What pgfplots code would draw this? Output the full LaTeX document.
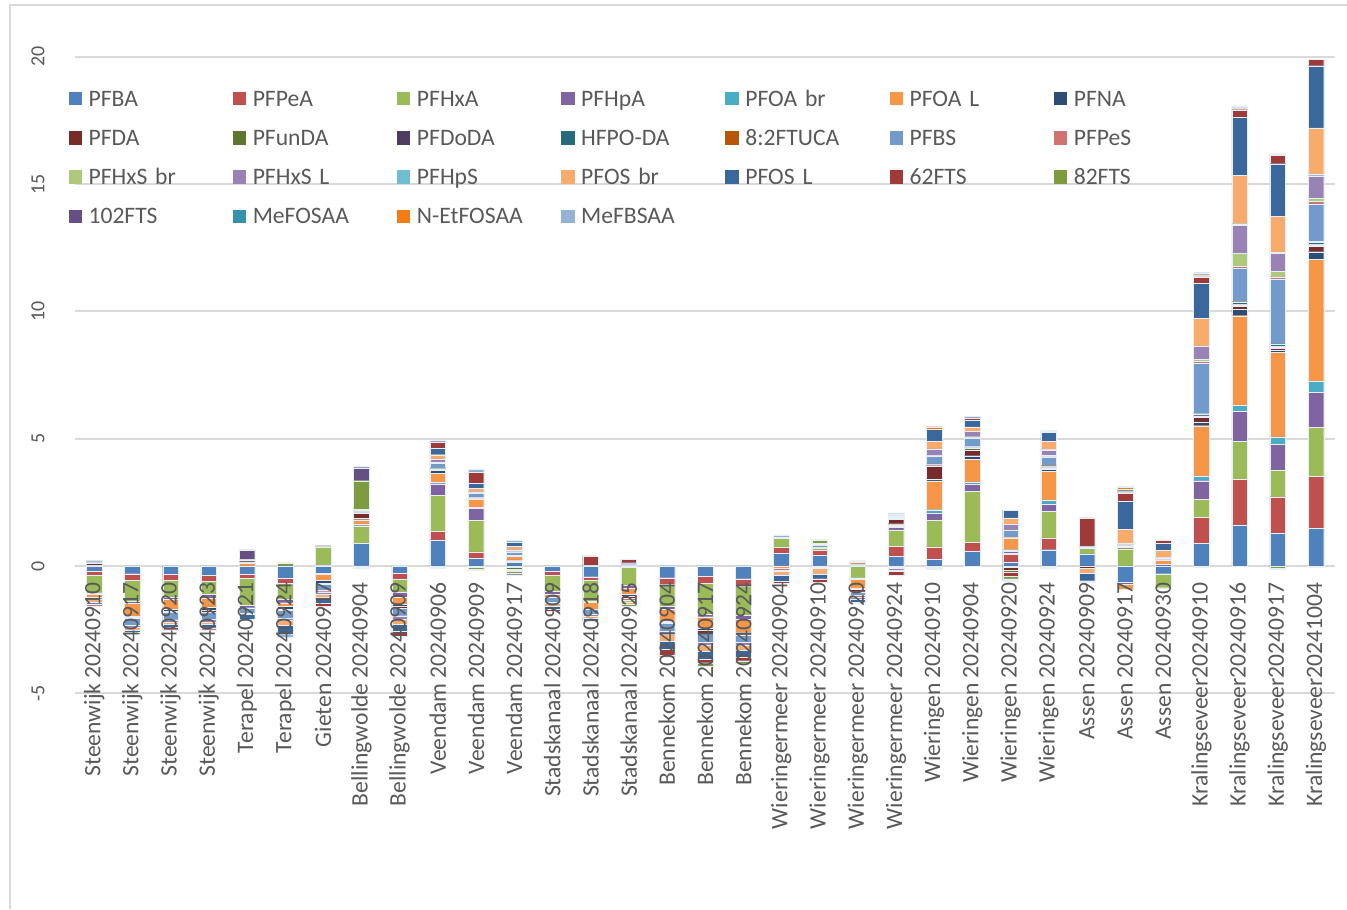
\documentclass[border=0pt]{standalone}
\usepackage{pgfplots}
\usepackage{pgfplotstable}
\pgfplotsset{compat=1.18}
\usepackage{fontspec}
\setmainfont{Carlito}
\definecolor{txtgray}{HTML}{595959}
\definecolor{gridgray}{HTML}{D9D9D9}
\definecolor{c1}{HTML}{4F81BD}
\definecolor{c2}{HTML}{C0504D}
\definecolor{c3}{HTML}{9BBB59}
\definecolor{c4}{HTML}{8064A2}
\definecolor{c5}{HTML}{4BACC6}
\definecolor{c6}{HTML}{F79646}
\definecolor{c7}{HTML}{2C4D75}
\definecolor{c8}{HTML}{772C2A}
\definecolor{c9}{HTML}{5F7530}
\definecolor{c10}{HTML}{4D3B62}
\definecolor{c11}{HTML}{276A7C}
\definecolor{c12}{HTML}{B65708}
\definecolor{c13}{HTML}{729ACA}
\definecolor{c14}{HTML}{CD7371}
\definecolor{c15}{HTML}{AFC97A}
\definecolor{c16}{HTML}{9983B5}
\definecolor{c17}{HTML}{6FBDD1}
\definecolor{c18}{HTML}{F9AB6B}
\definecolor{c19}{HTML}{3A679C}
\definecolor{c20}{HTML}{9E3B39}
\definecolor{c21}{HTML}{7E9B3F}
\definecolor{c22}{HTML}{664F84}
\definecolor{c23}{HTML}{3592AA}
\definecolor{c24}{HTML}{F47C14}
\definecolor{c25}{HTML}{95B3D7}
\definecolor{edge}{HTML}{E8EEF6}

\pgfplotstableread{
x s1 s2 s3 s4 s5 s6 s7 s8 s9 s10 s11 s12 s13 s14 s15 s16 s17 s18 s19 s20 s21 s22 s23 s24 s25
0 0 0 0 0 0 0 0.04 0.08 0 0.03 0.02 0 0 0 0 0.03 0 0 0 0 0 0 0 0 0.03
1 0 0 0 0 0 0 0 0 0 0 0 0 0 0 0 0 0 0 0 0 0 0 0 0 0
2 0 0 0 0 0 0 0 0 0 0 0 0 0 0 0 0 0 0 0 0 0 0 0 0 0
3 0 0 0 0 0 0 0 0 0 0 0 0 0 0 0 0 0 0 0 0 0 0 0 0 0
4 0 0 0 0 0 0.12 0.05 0.07 0 0 0.03 0 0 0 0 0 0 0 0 0 0 0.36 0 0 0
5 0 0 0 0 0 0 0 0 0 0 0 0 0 0 0 0 0 0 0 0 0.12 0 0 0 0
6 0 0.05 0.71 0.04 0 0 0 0 0 0 0 0 0 0 0 0 0 0 0 0 0 0 0 0 0
7 0.89 0 0.69 0.05 0.02 0.17 0.07 0.20 0.03 0 0.02 0 0.05 0 0 0.03 0 0 0 0 1.13 0.51 0 0 0.06
8 0 0 0 0 0 0 0 0 0 0 0 0 0 0 0 0 0 0 0 0 0 0 0 0 0.03
9 1.03 0.34 1.40 0.46 0.05 0.37 0.10 0.05 0.02 0.02 0.02 0 0.17 0.01 0.02 0.13 0.02 0.16 0.25 0.25 0 0 0 0 0.06
10 0.31 0.24 1.24 0.48 0.03 0.34 0.03 0.02 0 0 0 0 0.16 0 0.02 0.05 0 0.12 0.21 0.43 0 0 0.02 0 0.10
11 0.15 0.05 0 0.04 0 0.13 0.02 0 0 0 0.02 0 0.15 0 0.02 0.06 0 0.13 0.16 0 0 0 0 0 0.08
12 0 0 0 0 0 0 0 0 0 0 0 0 0 0 0 0 0 0 0 0 0 0 0 0 0
13 0 0 0 0 0 0 0.04 0 0 0 0 0 0 0 0 0 0 0 0 0.36 0 0 0 0 0
14 0 0 0 0 0 0 0 0 0 0 0 0 0.05 0 0 0.04 0 0 0.04 0.13 0 0 0 0 0
15 0 0 0 0 0 0 0 0 0 0 0 0 0 0 0 0 0 0 0 0 0 0 0 0 0
16 0 0 0 0 0 0 0 0 0 0 0 0 0 0 0 0 0 0 0 0 0 0 0 0 0
17 0 0 0 0 0 0 0 0 0 0 0 0 0 0 0 0 0 0 0 0 0 0 0 0 0
18 0.50 0.24 0.35 0 0 0 0 0 0 0 0 0 0.05 0 0 0 0 0 0 0 0 0 0 0 0.08
19 0.43 0.20 0.08 0.04 0 0 0 0 0 0 0 0 0.06 0 0.04 0.05 0 0 0 0 0.10 0.02 0 0 0.03
20 0 0 0 0 0 0 0 0 0 0 0 0 0 0 0.05 0 0 0.04 0 0.06 0.05 0 0 0 0
21 0.39 0.39 0.64 0.10 0.03 0.07 0.04 0.18 0.04 0.03 0.03 0.01 0 0 0.02 0 0.01 0 0.07 0 0 0 0 0.03 0
22 0.28 0.47 1.05 0.29 0.12 1.13 0.08 0.52 0.03 0.02 0.01 0.01 0.30 0.01 0.02 0.24 0.02 0.30 0.48 0 0 0 0 0.09 0
23 0.58 0.35 2.00 0.29 0.08 0.90 0.13 0.22 0.06 0.03 0.04 0.01 0.34 0.02 0.03 0.20 0.02 0.16 0.26 0.10 0 0 0 0 0.05
24 0.16 0.29 0.04 0.08 0.07 0.47 0 0 0 0 0.02 0 0.26 0.01 0.02 0.21 0.01 0.25 0.30 0 0 0 0 0 0
25 0.64 0.46 1.05 0.29 0.13 1.15 0.07 0.06 0.04 0.02 0.02 0.01 0.34 0.02 0.04 0.22 0.02 0.31 0.37 0.03 0 0 0 0 0.04
26 0.48 0 0.22 0.03 0 0 0 0 0 0 0 0 0.03 0 0 0.03 0 0 0 1.10 0 0 0 0 0
27 0 0 0.68 0 0 0 0 0.06 0.05 0.04 0.03 0.02 0 0 0 0 0 0.56 1.10 0.33 0.05 0.04 0.04 0.09 0.03
28 0 0 0 0.06 0 0.16 0.02 0.02 0 0 0 0 0.06 0 0 0.03 0 0.26 0.27 0.13 0 0 0 0 0
29 0.89 1.03 0.71 0.72 0.16 2.00 0.15 0.17 0.04 0.03 0.08 0.01 1.99 0.05 0.08 0.52 0 1.10 1.38 0.24 0 0.02 0.02 0.05 0.08
30 1.61 1.80 1.48 1.18 0.24 3.52 0.26 0.10 0.06 0.03 0.08 0.02 1.31 0.08 0.50 1.11 0.06 1.90 2.29 0.29 0.03 0.02 0.02 0.02 0.06
31 1.28 1.44 1.05 1.02 0.28 3.31 0.08 0.09 0.04 0.03 0.08 0.02 2.55 0.09 0.22 0.69 0.06 1.40 2.07 0.33 0 0 0 0.05 0
32 1.47 2.04 1.94 1.37 0.44 4.78 0.30 0.22 0.05 0.02 0.09 0.02 1.48 0.09 0.13 0.89 0.06 1.81 2.45 0.24 0 0 0 0 0
}\postab

\pgfplotstableread{
x s1 s2 s3 s4 s5 s6 s7 s8 s9 s10 s11 s12 s13 s14 s15 s16 s17 s18 s19 s20 s21 s22 s23 s24 s25
0 -0.20 -0.17 -0.68 -0.05 0 -0.12 0 0 0 0 0 0 -0.10 0 0 0 0 -0.08 -0.08 -0.08 0 0 0 0 0
1 -0.30 -0.25 -0.83 -0.08 0 -0.50 -0.05 -0.05 0 0 0 0 -0.25 0 0 -0.10 0 -0.10 -0.10 0 -0.06 0 0 0 0
2 -0.33 -0.24 -0.64 -0.10 0 -0.40 -0.05 -0.05 0 0 0 0 -0.30 0 0 -0.10 0 -0.08 -0.12 -0.09 0 0 0 0 0
3 -0.37 -0.22 -0.52 -0.16 0 -0.35 -0.10 -0.08 0 0 0 0 -0.30 0 0 -0.10 0 -0.10 -0.12 -0.08 0 0 0 0 0
4 -0.33 -0.16 -1.05 -0.10 0 0 0 0 0 0 0 0 -0.20 0 0 -0.05 0 0 -0.20 0 0 0 0 0 0
5 -0.49 -0.20 -0.60 -0.15 0 -0.15 -0.10 -0.05 0 0 0 0 -0.30 0 0 -0.10 0 -0.20 -0.35 0 0 0 0 0 -0.10
6 -0.28 0 0 0 -0.03 -0.25 -0.10 -0.05 0 0 0 0 -0.25 -0.05 0 -0.10 0 -0.10 -0.25 -0.12 0 0 0 0 0
7 0 0 0 0 0 0 0 0 0 0 0 0 0 0 0 0 0 -0.04 -0.06 0 0 0 0 0 0
8 -0.29 -0.24 -0.50 -0.20 0 -0.26 -0.08 -0.08 0 0 0 0 -0.30 0 0 -0.15 0 -0.20 -0.25 -0.20 -0.05 0 0 0 0
9 0 0 0 0 0 0 0 0 0 0 0 0 0 0 0 0 0 0 0 0 0 -0.04 -0.03 0 0
10 0 0 0 0 0 0 0 0 -0.05 0 0 0 0 0 0 0 0 0 0 0 -0.08 -0.05 0 0 0
11 0 0 0 0 0 0 0 -0.06 -0.05 -0.04 0 0 0 0 0 0 0 0 0 -0.06 -0.08 -0.05 0 0 0
12 -0.22 -0.13 -0.63 -0.13 0 -0.10 0 0 0 0 0 0 -0.20 0 0 -0.05 0 -0.10 -0.15 -0.05 0 0 0 0 0
13 -0.42 -0.13 -0.82 -0.05 0 -0.26 0 0 0 0 0 0 -0.20 0 0 -0.08 0 -0.10 -0.10 0 0 0 0 0 0
14 0 -0.05 -0.72 -0.10 0 -0.25 -0.05 -0.10 0 0 0 0 0 -0.08 -0.05 0 0 -0.10 0 0 -0.08 0 0 0 0
15 -0.46 -0.26 -0.85 -0.13 0 -0.46 -0.05 -0.05 0 0 0 0 -0.30 0 0 -0.10 0 -0.30 -0.30 -0.25 -0.05 0 0 0 0
16 -0.39 -0.30 -1.20 -0.10 0 -0.46 -0.08 -0.10 0 0 0 0 -0.35 0 0 -0.12 0 -0.25 -0.30 -0.15 -0.12 0 0 0 0
17 -0.50 -0.29 -1.15 -0.16 0 -0.50 -0.05 -0.05 0 0 0 0 -0.30 0 0 -0.12 0 -0.20 -0.25 -0.15 -0.10 0 0 0 0
18 0 0 0 0 0 -0.10 0 0 0 0 0 0 0 -0.05 0 -0.04 0 -0.15 -0.25 -0.08 -0.06 0 0 0 0
19 0 0 0 0 0 -0.05 0 0 0 0 0 0 0 -0.05 0 0 0 -0.20 -0.20 -0.15 0 0 0 0 0
20 0 0 -0.46 -0.05 0 -0.35 -0.05 -0.10 0 0 0 0 -0.15 -0.05 0 -0.10 0 0 -0.10 0 0 0 0 0 -0.05
21 0 0 0 0 0 0 0 0 0 0 0 0 -0.05 -0.05 0 -0.05 0 -0.07 0 -0.13 0 0 0 0 0
22 0 0 0 0 0 0 0 0 0 0 0 0 0 0 0 0 0 0 0 -0.04 -0.05 0 0 0 -0.05
23 0 0 0 0 0 0 0 0 0 0 0 0 0 0 0 0 0 0 0 0 0 0 0 0 0
24 0 0 0 0 0 0 -0.05 -0.10 -0.10 0 0 0 0 0 0 0 0 0 0 -0.15 -0.10 -0.05 0 0 -0.05
25 0 0 0 0 0 0 0 0 0 0 0 0 0 0 0 0 0 0 0 0 -0.05 -0.05 0 0 0
26 0 0 0 0 0 0 0 -0.08 0 0 0 0 0 0 0 0 0 -0.20 -0.30 0 -0.06 0 0 0 0
27 -0.65 0 0 -0.05 0 -0.20 0 0 0 0 0 0 0 0 0 0 0 0 0 0 0 0 0 0 0
28 -0.30 0 -0.55 0 0 0 0 0 0 0 0 0 0 0 0 0 0 0 0 0 0 0 0 0 0
29 0 0 0 0 0 0 0 0 0 0 0 0 0 0 0 0 0 0 0 0 -0.04 0 0 0 0
30 0 0 0 0 0 0 0 0 0 0 0 0 0 0 0 0 0 0 0 0 0 0 0 0 0
31 0 0 0 0 0 0 0 0 0 0 0 0 0 0 0 0 0 0 0 0 -0.10 0 0 0 -0.04
32 0 0 0 0 0 0 0 0 0 0 0 0 0 0 0 0 0 0 0 0 0 -0.05 0 0 0
}\negtab

\begin{document}
\begin{tikzpicture}
\path[use as bounding box] (-37.5pt,-107.85pt) rectangle (636pt,346.65pt);
\draw[gridgray, line width=0.75pt] (-32.5pt,-107.85pt) -- (-32.5pt,344.15pt) -- (636pt,344.15pt);
% positive stack, grid, y labels, legend
\begin{axis}[
  at={(0pt,0pt)}, anchor=south west,
  scale only axis, width=630pt, height=318.3pt,
  xmin=-0.5, xmax=32.5, ymin=-5, ymax=20,
  ybar stacked, bar width=7.8pt,
  xtick=\empty,
  ytick={-5,0,5,10,15,20},
  yticklabels={-5,0,5,10,15,20},
  ymajorgrids, grid style={draw=gridgray, line width=0.9pt},
  axis line style={draw=none}, tick style={draw=none},
  yticklabel style={font=\fontsize{10}{12}\selectfont, text=txtgray, xshift=-18.5pt, rotate=90, anchor=center},
  every axis plot/.append style={draw=edge, line width=0.1pt},
  legend columns=7, legend cell align=left,
  legend image code/.code={\fill[#1,draw=none] (0pt,-3.35pt) rectangle (6.7pt,3.35pt);},
  legend style={at={(axis description cs:-0.0054,0.9497)}, anchor=north west,
    draw=none, fill=none, inner sep=0pt, row sep=10pt,
    font=\fontsize{11.8}{14}\selectfont, text=txtgray,
    nodes={inner sep=0pt, text width=72.1pt, text height=8.6pt, text depth=1pt, align=left},
    /tikz/every odd column/.append style={column sep=3.3pt}},
]
\pgfplotsinvokeforeach{1,...,25}{
  \addplot[fill=c#1] table[x=x, y=s#1]{\postab};
}
\legend{PFBA,PFPeA,PFHxA,PFHpA,PFOA  br,PFOA L,PFNA,PFDA,PFunDA,PFDoDA,HFPO-DA,8:2FTUCA,PFBS,PFPeS,PFHxS br,PFHxS L,PFHpS,PFOS br,PFOS L,62FTS,82FTS,102FTS,MeFOSAA,N-EtFOSAA,MeFBSAA}
\end{axis}
% negative stack
\begin{axis}[
  at={(0pt,0pt)}, anchor=south west,
  scale only axis, width=630pt, height=318.3pt,
  xmin=-0.5, xmax=32.5, ymin=-5, ymax=20,
  ybar stacked, bar width=7.8pt, hide axis,
  every axis plot/.append style={draw=edge, line width=0.1pt},
]
\pgfplotsinvokeforeach{1,...,25}{
  \addplot[fill=c#1] table[x=x, y=s#1]{\negtab};
}
\end{axis}
% category labels on top
\begin{axis}[
  at={(0pt,0pt)}, anchor=south west,
  scale only axis, width=630pt, height=318.3pt,
  xmin=-0.5, xmax=32.5, ymin=-5, ymax=20,
  axis x line*=middle, axis y line=none,
  x axis line style={draw=none}, xtick style={draw=none},
  ytick=\empty,
  xtick={0,...,32},
  xticklabels={Steenwijk 20240910,Steenwijk 20240917,Steenwijk 20240920,Steenwijk 20240923,Terapel 20240921,Terapel 20240924,Gieten 20240917,Bellingwolde 20240904,Bellingwolde 20240909,Veendam 20240906,Veendam 20240909,Veendam 20240917,Stadskanaal 20240909,Stadskanaal 20240918,Stadskanaal 20240925,Bennekom 20240904,Bennekom 20240917,Bennekom 20240924,Wieringermeer 20240904,Wieringermeer 20240910,Wieringermeer 20240920,Wieringermeer 20240924,Wieringen 20240910,Wieringen 20240904,Wieringen 20240920,Wieringen 20240924,Assen 20240909,Assen 20240917,Assen 20240930,Kralingseveer20240910,Kralingseveer20240916,Kralingseveer20240917,Kralingseveer20241004},
  xticklabel style={font=\fontsize{11.8}{14}\selectfont, text=txtgray, yshift=-8pt, rotate=90, anchor=east, inner sep=0pt},
]
\addplot[draw=none] coordinates {(0,0)};
\end{axis}
\end{tikzpicture}
\end{document}
